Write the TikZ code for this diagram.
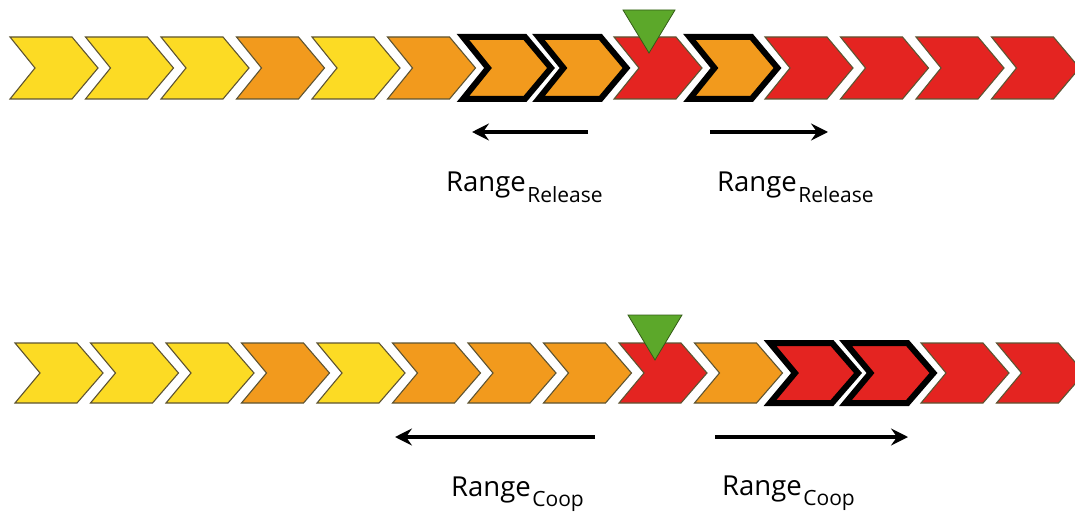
\documentclass[tikz,border=0pt]{standalone}
\usepackage{fontspec}
\setmainfont{Open Sans}
\usetikzlibrary{arrows.meta}
\definecolor{cY}{HTML}{FCDB24}
\definecolor{cO}{HTML}{F29A1D}
\definecolor{cR}{HTML}{E42421}
\definecolor{cG}{HTML}{5CA82A}
\definecolor{edgecol}{HTML}{5E5432}
\newcommand\chevronpath[3]{(#1,#2) -- ++(62,0) -- ++(26,#3) -- ++(-26,#3) -- ++(-62,0) -- ++(25,-#3) -- cycle}
\newcommand\sublabel[1]{\kern1.5pt\raisebox{-10pt}{\fontsize{21}{21}\selectfont #1}}
\tikzset{
  chev/.style={draw=edgecol, line width=1.1pt, line join=miter},
  boldhalo/.style={draw=white, line width=10pt, line join=miter},
  boldchev/.style={draw=black, line width=6pt, line join=miter},
  marker/.style={fill=cG, draw=cG!55!black, line width=0.8pt, line join=miter},
  rangearrow/.style={line width=3.8pt, -{Stealth[length=17pt,width=17pt,inset=6pt]}},
  rangelabel/.style={anchor=base west, inner sep=0pt, font=\fontsize{27.5}{27.5}\selectfont},
}
\begin{document}
\begin{tikzpicture}[x=1pt, y=-1pt]
\useasboundingbox (0,0) rectangle (1075,513);
% ---------- top row ----------
\foreach \c [count=\i from 0] in {cY,cY,cY,cO,cY,cO,cO,cO,cR,cO,cR,cR,cR,cR} {
  \pgfmathsetmacro\xx{10+75.5*\i}
  \path[chev, fill=\c] \chevronpath{\xx}{37}{31};
}
\foreach \i/\c in {6/cO,7/cO,9/cO} {
  \pgfmathsetmacro\xx{10+75.5*\i}
  \path[boldhalo] \chevronpath{\xx}{37}{31};
  \path[boldchev, fill=\c] \chevronpath{\xx}{37}{31};
}
\path[marker] (623,10) -- (675,10) -- (649,53) -- cycle;
% ---------- bottom row ----------
\foreach \c [count=\i from 0] in {cY,cY,cY,cO,cY,cO,cO,cO,cR,cO,cR,cR,cR,cR} {
  \pgfmathsetmacro\xx{15+75.5*\i}
  \path[chev, fill=\c] \chevronpath{\xx}{343}{30};
}
\foreach \i/\c in {10/cR,11/cR} {
  \pgfmathsetmacro\xx{15+75.5*\i}
  \path[boldhalo] \chevronpath{\xx}{343}{30};
  \path[boldchev, fill=\c] \chevronpath{\xx}{343}{30};
}
\path[marker] (628,315) -- (682,315) -- (655,360) -- cycle;
% ---------- arrows ----------
\coordinate (tls) at (588,132); \coordinate (tle) at (472,132);
\coordinate (trs) at (710,132); \coordinate (tre) at (828,132);
\coordinate (bls) at (595,437); \coordinate (ble) at (395,437);
\coordinate (brs) at (715,437); \coordinate (bre) at (908,437);
\draw[rangearrow] (tls) -- (tle);
\draw[rangearrow] (trs) -- (tre);
\draw[rangearrow] (bls) -- (ble);
\draw[rangearrow] (brs) -- (bre);
% ---------- labels ----------
\node[rangelabel] (ltl) at (446,192) {Range\sublabel{Release}};
\node[rangelabel] (ltr) at (717,192) {Range\sublabel{Release}};
\node[rangelabel] (lbl) at (451,496) {Range\sublabel{Coop}};
\node[rangelabel] (lbr) at (722,495) {Range\sublabel{Coop}};
\end{tikzpicture}
\end{document}
